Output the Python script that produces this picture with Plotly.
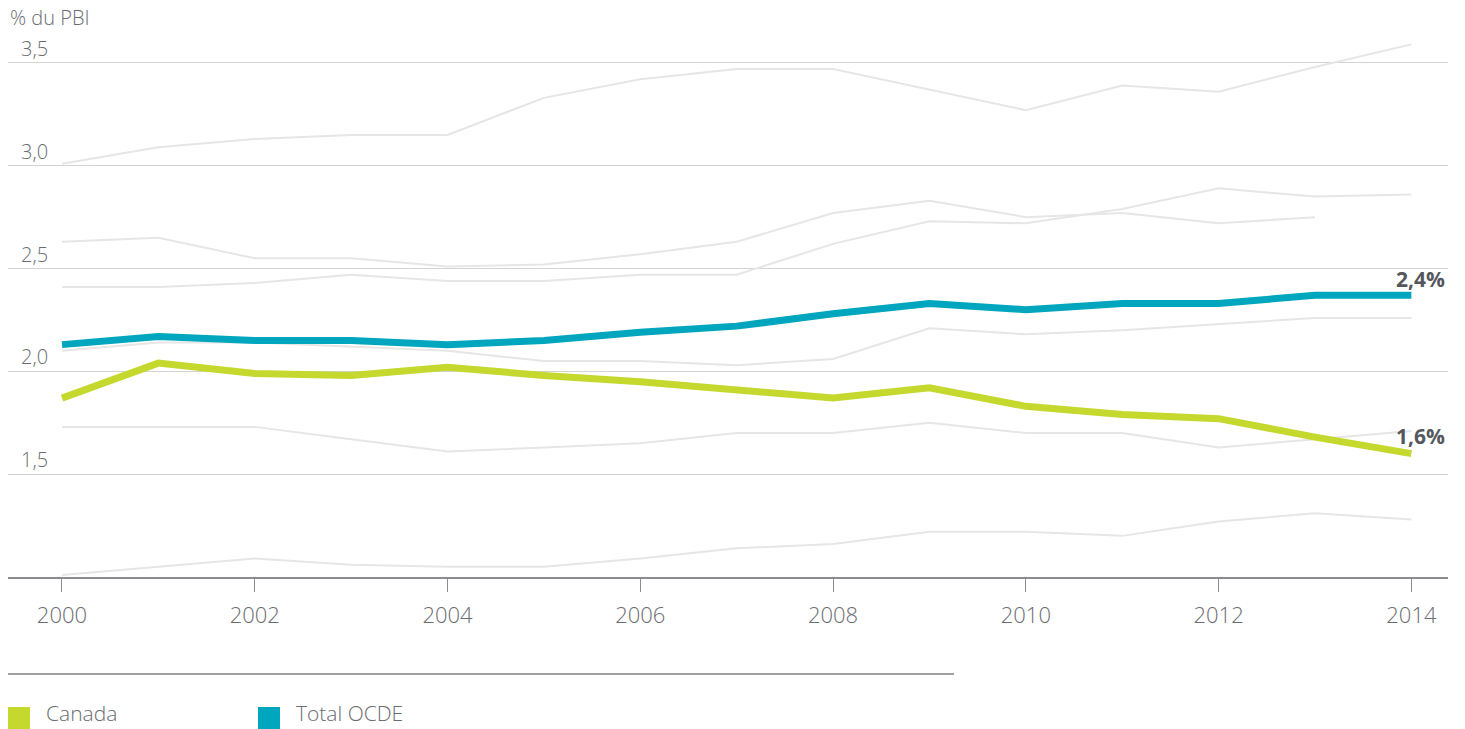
import plotly.graph_objects as go

# Dépenses en % du PBI, 2000-2014
annees = list(range(2000, 2015))

canada = [1.87, 2.04, 1.99, 1.98, 2.02, 1.98, 1.95, 1.91, 1.87, 1.92, 1.83, 1.79, 1.77, 1.68, 1.60]
total_ocde = [2.13, 2.17, 2.15, 2.15, 2.13, 2.15, 2.19, 2.22, 2.28, 2.33, 2.30, 2.33, 2.33, 2.37, 2.37]

# Autres pays de comparaison (tracés en gris)
autre_1 = [3.01, 3.09, 3.13, 3.15, 3.15, 3.33, 3.42, 3.47, 3.47, 3.37, 3.27, 3.39, 3.36, 3.48, 3.59]
autre_2 = [2.63, 2.65, 2.55, 2.55, 2.51, 2.52, 2.57, 2.63, 2.77, 2.83, 2.75, 2.77, 2.72, 2.75, None]
autre_3 = [2.41, 2.41, 2.43, 2.47, 2.44, 2.44, 2.47, 2.47, 2.62, 2.73, 2.72, 2.79, 2.89, 2.85, 2.86]
autre_4 = [2.10, 2.14, 2.14, 2.12, 2.10, 2.05, 2.05, 2.03, 2.06, 2.21, 2.18, 2.20, 2.23, 2.26, 2.26]
autre_5 = [1.73, 1.73, 1.73, 1.67, 1.61, 1.63, 1.65, 1.70, 1.70, 1.75, 1.70, 1.70, 1.63, 1.67, 1.71]
autre_6 = [1.01, 1.05, 1.09, 1.06, 1.05, 1.05, 1.09, 1.14, 1.16, 1.22, 1.22, 1.20, 1.27, 1.31, 1.28]
autres = [autre_1, autre_2, autre_3, autre_4, autre_5, autre_6]

y_ticks = [1.5, 2.0, 2.5, 3.0, 3.5]
y_tick_labels = ["1,5", "2,0", "2,5", "3,0", "3,5"]
x_ticks = list(range(2000, 2015, 2))

VERT = "#c4d82e"
BLEU = "#00a6bd"
GRIS_TEXTE = "#6a6c71"
FONT = "Open Sans"

fig = go.Figure()

for serie in autres:
    fig.add_trace(go.Scatter(x=annees, y=serie, mode="lines",
                             line=dict(color="#e6e6e6", width=2),
                             hoverinfo="skip", showlegend=False))

fig.add_trace(go.Scatter(x=annees, y=total_ocde, mode="lines", name="Total OCDE",
                         line=dict(color=BLEU, width=7), showlegend=False))
fig.add_trace(go.Scatter(x=annees, y=canada, mode="lines", name="Canada",
                         line=dict(color=VERT, width=7), showlegend=False))

# Valeurs finales
for serie, dy in ((total_ocde, 0), (canada, 2)):
    v = serie[-1]
    fig.add_annotation(x=annees[-1], y=v, text=f"<b>{v:.1f}%</b>".replace(".", ","),
                       xanchor="right", yanchor="bottom", xshift=36, yshift=dy,
                       showarrow=False,
                       font=dict(family=FONT, size=21, color="#55575e"))

# Unité
fig.add_annotation(xref="paper", yref="paper", x=0, y=(577 - 18) / 547,
                   text="% du PBI", xanchor="left", yanchor="middle", showarrow=False,
                   font=dict(family=FONT, size=20, color=GRIS_TEXTE, weight=300))

# Légende
def px_x(p):
    return (p - 8) / 1440

def px_y(p):
    return (577 - p) / 547

fig.add_shape(type="line", xref="paper", yref="paper",
              x0=px_x(8), x1=px_x(954), y0=px_y(674), y1=px_y(674),
              line=dict(color="#7f8185", width=1.5))
for nom, couleur, x0 in (("Canada", VERT, 8), ("Total OCDE", BLEU, 258)):
    fig.add_shape(type="rect", xref="paper", yref="paper",
                  x0=px_x(x0), x1=px_x(x0 + 22), y0=px_y(729), y1=px_y(707),
                  fillcolor=couleur, line=dict(width=0))
    fig.add_annotation(xref="paper", yref="paper", x=px_x(x0 + 36), y=px_y(729),
                       text=nom, xanchor="left", yanchor="bottom", showarrow=False,
                       font=dict(family=FONT, size=21, color=GRIS_TEXTE, weight=300))

fig.update_layout(
    width=1465, height=729,
    margin=dict(l=8, r=17, t=30, b=152),
    paper_bgcolor="white", plot_bgcolor="white",
    font=dict(family=FONT, color=GRIS_TEXTE),
    showlegend=False,
)
fig.update_xaxes(
    range=[1999.44, 2014.38], tickvals=x_ticks, ticktext=[str(t) for t in x_ticks],
    showgrid=False, zeroline=False,
    showline=True, linecolor="#8a8c90", linewidth=1.5,
    ticks="outside", ticklen=13, tickwidth=1, tickcolor="#8a8c90",
    ticklabelstandoff=5,
    tickfont=dict(family=FONT, size=22, color=GRIS_TEXTE, weight=300),
)
fig.update_yaxes(
    range=[1.0, 3.66], tickvals=y_ticks, ticktext=y_tick_labels,
    ticklabelposition="inside top", ticklabelstandoff=10,
    showgrid=True, gridcolor="#d2d3d5", gridwidth=1, zeroline=False, showline=False,
    tickfont=dict(family=FONT, size=20, color=GRIS_TEXTE, weight=300),
)

fig.write_html("out.html")
